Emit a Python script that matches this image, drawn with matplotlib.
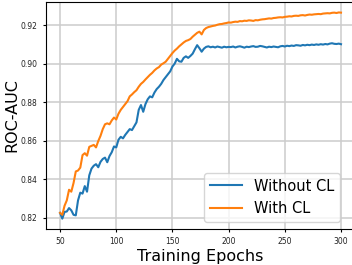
import matplotlib
matplotlib.use("Agg")
import matplotlib.pyplot as plt

# epochs sampled every 2
epochs = list(range(50, 301, 2))

without_cl = [
    0.8225, 0.8195, 0.8230, 0.8232, 0.8250, 0.8238, 0.8215, 0.8212, 0.8290, 0.8330,
    0.8325, 0.8364, 0.8335, 0.8420, 0.8455, 0.8470, 0.8478, 0.8462, 0.8490, 0.8505,
    0.8512, 0.8488, 0.8520, 0.8540, 0.8570, 0.8565, 0.8605, 0.8620, 0.8612, 0.8630,
    0.8645, 0.8660, 0.8655, 0.8675, 0.8695, 0.8760, 0.8785, 0.8750, 0.8790, 0.8815,
    0.8830, 0.8825, 0.8850, 0.8868, 0.8880, 0.8895, 0.8915, 0.8930, 0.8945, 0.8960,
    0.8985, 0.9000, 0.9025, 0.9012, 0.9010, 0.9030, 0.9038, 0.9030, 0.9040, 0.9052,
    0.9075, 0.9096, 0.9080, 0.9062, 0.9078, 0.9087, 0.9090, 0.9085, 0.9088, 0.9084,
    0.9089, 0.9086, 0.9083, 0.9088, 0.9085, 0.9087, 0.9086, 0.9089, 0.9084, 0.9088,
    0.9090, 0.9087, 0.9083, 0.9088, 0.9086, 0.9089, 0.9091, 0.9087, 0.9088, 0.9092,
    0.9090, 0.9087, 0.9084, 0.9088, 0.9086, 0.9089, 0.9087, 0.9085, 0.9090, 0.9092,
    0.9089, 0.9093, 0.9091, 0.9094, 0.9092, 0.9096, 0.9095, 0.9093, 0.9097, 0.9095,
    0.9098, 0.9096, 0.9099, 0.9097, 0.9100, 0.9098, 0.9101, 0.9099, 0.9102, 0.9100,
    0.9104, 0.9106, 0.9103, 0.9102, 0.9104, 0.9101,
]

with_cl = [
    0.8225, 0.8215, 0.8262, 0.8290, 0.8345, 0.8335, 0.8380, 0.8440, 0.8445, 0.8460,
    0.8525, 0.8535, 0.8522, 0.8568, 0.8573, 0.8578, 0.8565, 0.8598, 0.8625, 0.8660,
    0.8685, 0.8690, 0.8685, 0.8705, 0.8720, 0.8710, 0.8740, 0.8760, 0.8775, 0.8790,
    0.8805, 0.8830, 0.8840, 0.8852, 0.8862, 0.8880, 0.8895, 0.8905, 0.8918, 0.8930,
    0.8942, 0.8952, 0.8965, 0.8975, 0.8982, 0.8995, 0.9002, 0.9010, 0.9025, 0.9040,
    0.9055, 0.9068, 0.9078, 0.9090, 0.9100, 0.9110, 0.9118, 0.9122, 0.9128, 0.9140,
    0.9150, 0.9160, 0.9166, 0.9152, 0.9175, 0.9185, 0.9190, 0.9193, 0.9196, 0.9198,
    0.9202, 0.9205, 0.9206, 0.9209, 0.9211, 0.9214, 0.9213, 0.9216, 0.9218, 0.9217,
    0.9221, 0.9220, 0.9223, 0.9222, 0.9225, 0.9224, 0.9222, 0.9226, 0.9225, 0.9228,
    0.9230, 0.9231, 0.9233, 0.9235, 0.9234, 0.9237, 0.9238, 0.9240, 0.9241, 0.9240,
    0.9243, 0.9244, 0.9246, 0.9245, 0.9248, 0.9249, 0.9248, 0.9251, 0.9252, 0.9250,
    0.9253, 0.9255, 0.9254, 0.9256, 0.9257, 0.9258, 0.9257, 0.9260, 0.9261, 0.9262,
    0.9261, 0.9264, 0.9265, 0.9263, 0.9266, 0.9265,
]

fig = plt.figure(figsize=(3.52, 2.65), dpi=100)
# right edge of the axes runs just past the image, as in the reference
ax = fig.add_axes([0.1307, 0.136, 0.878, 0.856])

ax.plot(epochs, without_cl, color="#1f77b4", lw=1.5, label="Without CL")
ax.plot(epochs, with_cl, color="#ff7f0e", lw=1.5, label="With CL")

ax.set_yticks([0.82, 0.84, 0.86, 0.88, 0.90, 0.92])
ax.set_xticks([50, 100, 150, 200, 250, 300])
ax.tick_params(labelsize=5.5, length=2.5, width=0.8, labelcolor="#222222")
ax.grid(True, color="#cccccc", lw=1.1)
ax.set_axisbelow(True)
ax.set_xlabel("Training Epochs", fontsize=11.5, labelpad=2)
ax.set_ylabel("ROC-AUC", fontsize=11.5, labelpad=1)
ax.legend(loc="lower right", fontsize=10.5, handlelength=2.2,
          bbox_to_anchor=(0.975, 0.0), borderaxespad=0.5)

fig.savefig("out.png", dpi=100)
